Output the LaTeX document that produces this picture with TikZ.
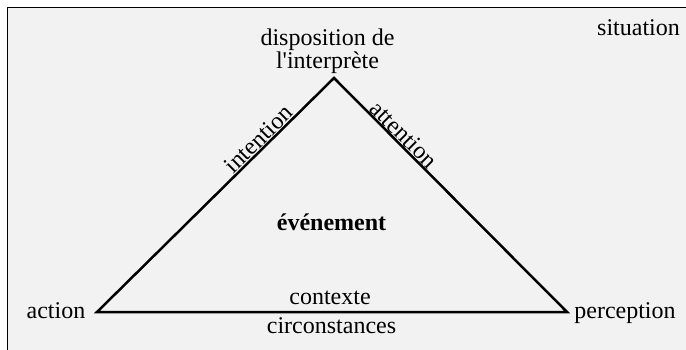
\documentclass[tikz,border=0pt]{standalone}
\usepackage{fontspec}
\setmainfont{Liberation Serif}
\definecolor{panel}{HTML}{F2F2F2}
\begin{document}
\begin{tikzpicture}[x=1bp,y=-1bp,
  lbl/.style={font=\fontsize{24bp}{23bp}\selectfont, inner sep=0pt},
  edgelbl/.style={font=\fontsize{24bp}{23bp}\selectfont, inner sep=0.5bp, sloped, above},
  edgeline/.style={line width=2.5bp, line join=miter}]
\useasboundingbox (0,0) rectangle (686,349);
\clip (0,0) rectangle (686,349);
\fill[white] (0,0) rectangle (686,349);
\draw[line width=1.3bp, fill=panel] (7.3,7.3) rectangle (700,360);
% vertices
\coordinate (va) at (97,312);
\coordinate (vd) at (334,78);
\coordinate (vp) at (567,312);
% labels
\node[lbl, anchor=base] (situation) at (638.5,35) {situation};
\node[lbl, anchor=base] (disp1) at (327.5,45) {disposition de};
\node[lbl, anchor=base] (disp2) at (327.5,68) {l\textquotesingle interprète};
\node[lbl, anchor=base] (action) at (56,318) {action};
\node[lbl, anchor=base] (perception) at (625,318) {perception};
\node[lbl, anchor=base, font=\fontsize{24bp}{23bp}\selectfont\bfseries] (evenement) at (331.5,230) {événement};
\node[lbl, anchor=base] (contexte) at (330,304) {contexte};
\node[lbl, anchor=base] (circ) at (331.5,333) {circonstances};
% triangle
\draw[edgeline] (va) -- node[edgelbl, pos=0.71] (intention) {intention}
  (vd) -- node[edgelbl, pos=0.27] (attention) {attention}
  (vp) -- cycle;
\end{tikzpicture}
\end{document}
